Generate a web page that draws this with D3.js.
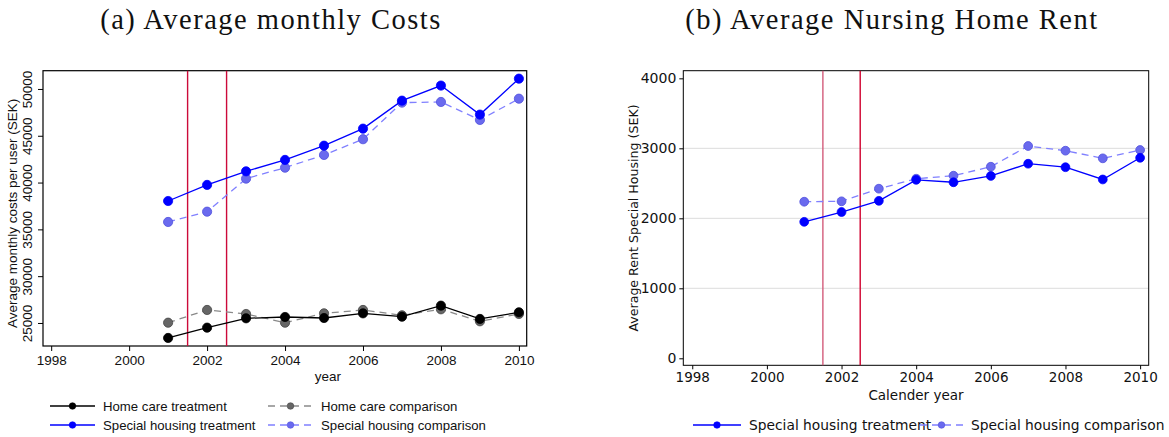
<!DOCTYPE html>
<html>
<head>
<meta charset="utf-8">
<script src="https://cdn.jsdelivr.net/npm/d3@7"></script>
<style>
  html, body { margin: 0; padding: 0; background: #fff; }
  svg { display: block; }
</style>
</head>
<body>
<svg id="chart" width="1169" height="437"></svg>
<script>
// ---- data ----
const years = [2001, 2002, 2003, 2004, 2005, 2006, 2007, 2008, 2009, 2010];

// Panel (a): average monthly costs per user (SEK)
const homeCareTreatment   = [23400, 24500, 25500, 25640, 25530, 26030, 25670, 26850, 25430, 26140];
const homeCareComparison  = [25030, 26390, 25960, 25030, 26030, 26390, 25820, 26460, 25180, 25960];
const specialTreatment    = [38030, 39750, 41200, 42420, 43940, 45760, 48750, 50360, 47260, 51100];
const specialComparison   = [35790, 36890, 40420, 41590, 42950, 44630, 48540, 48610, 46690, 48960];

// Panel (b): average rent in special housing (SEK)
const rentTreatment  = [1950, 2090, 2250, 2550, 2515, 2605, 2780, 2730, 2555, 2865];
const rentComparison = [2237, 2243, 2423, 2566, 2609, 2737, 3033, 2966, 2857, 2976];

const xTickValues = [1998, 2000, 2002, 2004, 2006, 2008, 2010];
const yTicksA = [25000, 30000, 35000, 40000, 45000, 50000];
const yTicksB = [0, 1000, 2000, 3000, 4000];
const gridB = [1000, 2000, 3000];
const reformYears = [2001.5, 2002.5];

const legendA = ["Home care treatment", "Home care comparison", "Special housing treatment", "Special housing comparison"];
const legendB = ["Special housing treatment", "Special housing comparison"];

// ---- styling ----
const svg = d3.select("#chart");
const serif = "'Liberation Serif', 'DejaVu Serif', serif";
const sansA = "'Liberation Sans', Arial, sans-serif";
const sansB = "'DejaVu Sans', sans-serif";

const styleTreatHC = { stroke: "#000", fill: "#000", mstroke: "#000", dash: null };
const styleCompHC  = { stroke: "#8a8a8a", fill: "#666", mstroke: "#444", dash: "7,5" };
const styleTreatSH = { stroke: "#0000ff", fill: "#0000ff", mstroke: "#0000ff", dash: null };
const styleCompSH  = { stroke: "#8080ff", fill: "#6a6aee", mstroke: "#5050dd", dash: "7,5" };

// ---- titles ----
svg.append("text").attr("x", 271).attr("y", 29).attr("text-anchor", "middle")
  .style("font-family", serif).style("font-size", "28.5px").style("letter-spacing", "1.5px")
  .attr("fill", "#111").text("(a) Average monthly Costs");
svg.append("text").attr("x", 892).attr("y", 29).attr("text-anchor", "middle")
  .style("font-family", serif).style("font-size", "28.5px").style("letter-spacing", "1.5px")
  .attr("fill", "#111").text("(b) Average Nursing Home Rent");

function drawSeries(g, x, y, values, st, r) {
  const line = d3.line().x((d, i) => x(years[i])).y(d => y(d));
  g.append("path").datum(values).attr("d", line)
    .attr("fill", "none").attr("stroke", st.stroke).attr("stroke-width", 1.3)
    .attr("stroke-dasharray", st.dash);
  g.selectAll(null).data(values).enter().append("circle")
    .attr("cx", (d, i) => x(years[i])).attr("cy", d => y(d)).attr("r", r)
    .attr("fill", st.fill).attr("stroke", st.mstroke).attr("stroke-width", 0.8);
}

function legendItem(g, lx, ly, len, st, r, label, font, size) {
  const l = g.append("line").attr("x1", lx).attr("x2", lx + len).attr("y1", ly).attr("y2", ly)
    .attr("stroke", st.stroke).attr("stroke-width", 1.3);
  if (st.dash) l.attr("stroke-dasharray", st.dash);
  g.append("circle").attr("cx", lx + len / 2).attr("cy", ly).attr("r", r)
    .attr("fill", st.fill).attr("stroke", st.mstroke).attr("stroke-width", 0.6);
  g.append("text").attr("x", lx + len + 8).attr("y", ly + 4.5)
    .style("font-family", font).style("font-size", size).attr("fill", "#111").text(label);
}

// ---- panel (a) ----
{
  const x = d3.scaleLinear().domain([1997.79, 2010.2]).range([43, 526.7]);
  const y = d3.scaleLinear().domain([22540, 51950]).range([346, 70.7]);
  const g = svg.append("g");

  g.append("rect").attr("x", x.range()[0]).attr("y", y.range()[1])
    .attr("width", x.range()[1] - x.range()[0]).attr("height", y.range()[0] - y.range()[1])
    .attr("fill", "none").attr("stroke", "#000").attr("stroke-width", 1.2);

  // x axis
  const xa = g.append("g").attr("transform", `translate(0,${y.range()[0]})`)
    .call(d3.axisBottom(x).tickValues(xTickValues).tickFormat(d3.format("d")).tickSize(5).tickPadding(4));
  xa.select(".domain").remove();
  xa.selectAll("text").style("font-family", sansA).style("font-size", "13.5px").attr("fill", "#111");

  // y axis with labels turned to read upward
  const ya = g.append("g").attr("transform", `translate(${x.range()[0]},0)`)
    .call(d3.axisLeft(y).tickValues(yTicksA).tickFormat(d3.format("d")).tickSize(5));
  ya.select(".domain").remove();
  ya.selectAll(".tick text")
    .attr("transform", "rotate(-90)").attr("x", 0).attr("y", -11).attr("dy", "0")
    .attr("text-anchor", "middle")
    .style("font-family", sansA).style("font-size", "13.5px").attr("fill", "#111");

  g.append("text").attr("transform", `translate(17,${(y.range()[0] + y.range()[1]) / 2 + 5}) rotate(-90)`)
    .attr("text-anchor", "middle").style("font-family", sansA).style("font-size", "13.5px")
    .attr("fill", "#111").text("Average monthly costs per user (SEK)");

  g.append("text").attr("x", (x.range()[0] + x.range()[1]) / 2 + 43).attr("y", 381)
    .attr("text-anchor", "middle").style("font-family", sansA).style("font-size", "13.5px")
    .attr("fill", "#111").text("year");

  // reform lines
  g.selectAll(null).data(reformYears).enter().append("line")
    .attr("x1", d => x(d)).attr("x2", d => x(d)).attr("y1", y.range()[1]).attr("y2", y.range()[0])
    .attr("stroke", "#cc0a3a").attr("stroke-width", 1.4);

  drawSeries(g, x, y, homeCareComparison, styleCompHC, 4.6);
  drawSeries(g, x, y, homeCareTreatment, styleTreatHC, 4.6);
  drawSeries(g, x, y, specialComparison, styleCompSH, 4.6);
  drawSeries(g, x, y, specialTreatment, styleTreatSH, 4.6);

  const lg = svg.append("g");
  legendItem(lg, 50, 406, 45, styleTreatHC, 3.3, legendA[0], sansA, "13.2px");
  legendItem(lg, 268, 406, 45, styleCompHC, 3.3, legendA[1], sansA, "13.2px");
  legendItem(lg, 50, 425, 45, styleTreatSH, 3.3, legendA[2], sansA, "13.2px");
  legendItem(lg, 268, 425, 45, styleCompSH, 3.3, legendA[3], sansA, "13.2px");
}

// ---- panel (b) ----
{
  const x = d3.scaleLinear().domain([1997.76, 2010.23]).range([683.3, 1148.7]);
  const y = d3.scaleLinear().domain([-100, 4109]).range([365.3, 70.7]);
  const g = svg.append("g");

  g.selectAll(null).data(gridB).enter().append("line")
    .attr("x1", x.range()[0]).attr("x2", x.range()[1])
    .attr("y1", d => y(d)).attr("y2", d => y(d))
    .attr("stroke", "#dcdcdc").attr("stroke-width", 1);

  g.append("rect").attr("x", x.range()[0]).attr("y", y.range()[1])
    .attr("width", x.range()[1] - x.range()[0]).attr("height", y.range()[0] - y.range()[1])
    .attr("fill", "none").attr("stroke", "#000").attr("stroke-width", 1);

  const xa = g.append("g").attr("transform", `translate(0,${y.range()[0]})`)
    .call(d3.axisBottom(x).tickValues(xTickValues).tickFormat(d3.format("d")).tickSize(4).tickPadding(3));
  xa.select(".domain").remove();
  xa.selectAll("text").style("font-family", sansB).style("font-size", "13.5px").attr("fill", "#111");

  const ya = g.append("g").attr("transform", `translate(${x.range()[0]},0)`)
    .call(d3.axisLeft(y).tickValues(yTicksB).tickFormat(d3.format("d")).tickSize(4).tickPadding(3));
  ya.select(".domain").remove();
  ya.selectAll("text").style("font-family", sansB).style("font-size", "14px").attr("fill", "#111");

  g.append("text").attr("transform", `translate(638,${218}) rotate(-90)`)
    .attr("text-anchor", "middle").style("font-family", sansB).style("font-size", "12.6px")
    .attr("fill", "#111").text("Average Rent Special Housing (SEK)");

  g.append("text").attr("x", 916).attr("y", 400)
    .attr("text-anchor", "middle").style("font-family", sansB).style("font-size", "13.5px")
    .attr("fill", "#111").text("Calender year");

  const reformColors = ["#d35c7a", "#d0002e"];
  g.selectAll(null).data(reformYears).enter().append("line")
    .attr("x1", d => x(d)).attr("x2", d => x(d)).attr("y1", y.range()[1]).attr("y2", y.range()[0])
    .attr("stroke", (d, i) => reformColors[i]).attr("stroke-width", 1.4);

  drawSeries(g, x, y, rentComparison, styleCompSH, 4.4);
  drawSeries(g, x, y, rentTreatment, styleTreatSH, 4.4);

  const lg = svg.append("g");
  legendItem(lg, 693, 425, 48, styleTreatSH, 3.3, legendB[0], sansB, "13.8px");
  legendItem(lg, 920, 425, 43, styleCompSH, 3.3, legendB[1], sansB, "13.8px");
}
</script>
</body>
</html>
